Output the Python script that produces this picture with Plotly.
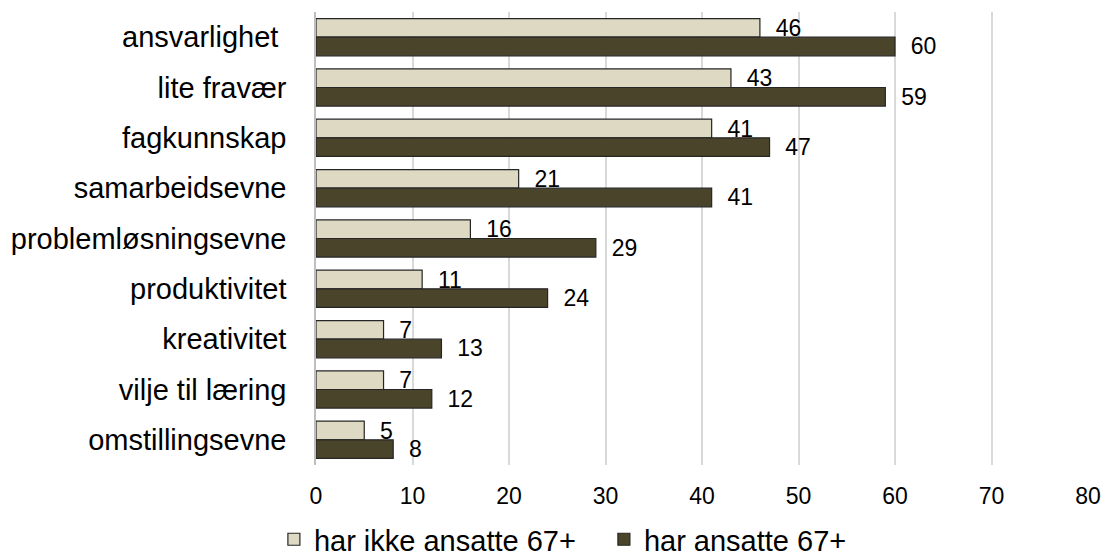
import plotly.graph_objects as go

categories = ["ansvarlighet\u00a0", "lite fravær", "fagkunnskap", "samarbeidsevne",
              "problemløsningsevne", "produktivitet", "kreativitet",
              "vilje til læring", "omstillingsevne"]
har_ikke = [46, 43, 41, 21, 16, 11, 7, 7, 5]
har = [60, 59, 47, 41, 29, 24, 13, 12, 8]
series_names = ["har ikke ansatte 67+", "har ansatte 67+"]

fig = go.Figure()
fig.add_trace(go.Bar(
    y=categories, x=har_ikke, orientation="h", name=series_names[0],
    marker=dict(color="#DDD9C3", line=dict(color="#262626", width=1.2)),
    texttemplate="  %{x}", textposition="outside", cliponaxis=False,
    constraintext="none", textfont=dict(size=23, color="#000000"),
))
fig.add_trace(go.Bar(
    y=categories, x=har, orientation="h", name=series_names[1],
    marker=dict(color="#4A452A", line=dict(color="#262626", width=1.2)),
    texttemplate="  %{x}", textposition="outside", cliponaxis=False,
    constraintext="none", textfont=dict(size=23, color="#000000"),
))

fig.update_layout(
    width=1102, height=557,
    barmode="group", bargap=0.26, bargroupgap=0,
    plot_bgcolor="white", paper_bgcolor="white",
    font=dict(family="Liberation Sans, Arial", color="#000000"),
    margin=dict(l=316, r=14, t=12, b=92, autoexpand=False),
    legend=dict(orientation="h", xref="container", x=0.548, xanchor="center",
                y=-0.108, yanchor="top", font=dict(size=29), itemwidth=30,
                entrywidth=285, traceorder="normal"),
    xaxis=dict(range=[0, 80], dtick=10, showgrid=True, gridcolor="#D9D9D9",
               gridwidth=1.5, zeroline=False, showline=False, automargin=False,
               tickfont=dict(size=23), ticks="", ticklabelstandoff=15),
    yaxis=dict(autorange="reversed", showline=True, linecolor="#BFBFBF",
               linewidth=1.5, tickfont=dict(size=29), ticks="", automargin=False,
               ticklabelstandoff=22),
)

fig.write_html("out.html", config={"displayModeBar": False},
               post_script="document.body.style.margin='0';")
